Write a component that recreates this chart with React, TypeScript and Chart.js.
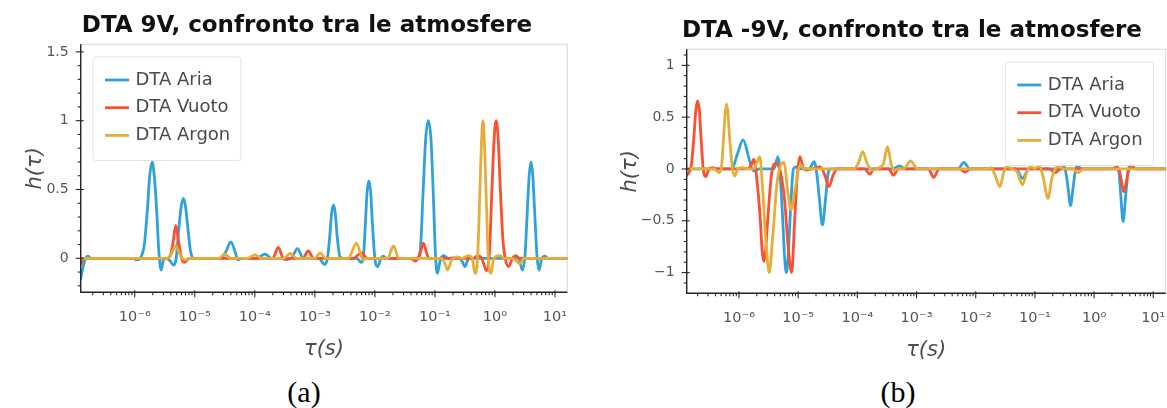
import React, { useEffect, useRef } from 'react';
import { Chart, registerables } from 'chart.js';

Chart.register(...registerables);

const FONT = "'DejaVu Sans', 'Liberation Sans', Arial, sans-serif";
const SERIF = "'Liberation Serif', 'DejaVu Serif', serif";

const seriesLabels = ['DTA Aria', 'DTA Vuoto', 'DTA Argon'];
const seriesColors = ['#30a2da', '#fc4f30', '#e5ae38'];

type Pt = [number, number]; // [log10(tau / s), h(tau)]

// ---------- Panel (a): DTA 9V ----------
const aria9V: Pt[] = [
  [-6.9, -0.15], [-6.86, -0.06], [-6.82, 0.0], [-6.78, 0.015], [-6.73, 0.0],
  [-6.03, 0.0], [-5.97, -0.012], [-5.91, 0.0], [-5.84, 0.1], [-5.79, 0.35],
  [-5.75, 0.6], [-5.71, 0.7], [-5.675, 0.6], [-5.635, 0.35], [-5.6, 0.06],
  [-5.56, -0.085], [-5.52, -0.01], [-5.47, 0.0], [-5.41, -0.02], [-5.35, -0.05],
  [-5.31, 0.0], [-5.265, 0.22], [-5.225, 0.38], [-5.19, 0.436], [-5.155, 0.38],
  [-5.115, 0.22], [-5.07, 0.05], [-5.02, 0.0], [-4.56, 0.0], [-4.48, 0.05],
  [-4.4, 0.12], [-4.33, 0.05], [-4.28, -0.012], [-4.22, 0.0], [-3.97, 0.0],
  [-3.83, 0.03], [-3.72, 0.0], [-3.4, 0.0], [-3.29, 0.07], [-3.19, 0.0],
  [-2.93, 0.0], [-2.84, -0.045], [-2.79, 0.0], [-2.75, 0.17], [-2.72, 0.33],
  [-2.69, 0.387], [-2.66, 0.33], [-2.63, 0.17], [-2.58, 0.01], [-2.52, 0.0],
  [-2.3, 0.0], [-2.23, -0.03], [-2.19, 0.02], [-2.155, 0.28], [-2.13, 0.48],
  [-2.1, 0.562], [-2.07, 0.48], [-2.045, 0.28], [-2.0, 0.0], [-1.95, -0.06],
  [-1.9, 0.0], [-1.86, 0.015], [-1.81, 0.0], [-1.3, 0.0], [-1.25, 0.03],
  [-1.195, 0.5], [-1.155, 0.86], [-1.11, 1.0], [-1.065, 0.86], [-1.03, 0.5],
  [-0.99, 0.02], [-0.96, -0.11], [-0.91, -0.01], [-0.85, 0.02], [-0.78, 0.0],
  [-0.6, 0.005], [-0.55, -0.02], [-0.5, -0.06], [-0.45, -0.01], [-0.4, 0.0],
  [0.4, 0.0], [0.455, -0.085], [0.5, 0.02], [0.54, 0.35], [0.57, 0.6],
  [0.6, 0.7], [0.63, 0.6], [0.66, 0.35], [0.7, 0.02], [0.735, -0.085],
  [0.78, 0.0], [0.835, 0.015], [0.88, 0.0], [1.21, 0.0],
];

const vuoto9V: Pt[] = [
  [-6.9, -0.04], [-6.84, 0.0], [-5.47, 0.0], [-5.4, 0.03], [-5.36, 0.12],
  [-5.317, 0.24], [-5.27, 0.12], [-5.22, 0.0], [-5.17, -0.03], [-5.1, 0.0],
  [-3.7, 0.0], [-3.61, 0.08], [-3.53, 0.0], [-3.47, -0.01], [-3.4, 0.0],
  [-3.2, 0.0], [-3.11, 0.053], [-3.02, 0.0], [-2.36, 0.0], [-2.22, 0.04],
  [-2.13, 0.0], [-1.4, 0.0], [-1.33, -0.02], [-1.28, 0.0], [-1.24, 0.05],
  [-1.19, 0.11], [-1.14, 0.04], [-1.1, 0.0], [-0.36, 0.0], [-0.29, 0.02],
  [-0.22, 0.0], [-0.14, -0.09], [-0.095, 0.02], [-0.05, 0.5], [-0.015, 0.86],
  [0.02, 1.0], [0.055, 0.86], [0.09, 0.5], [0.13, 0.15], [0.17, 0.0],
  [0.23, -0.06], [0.29, 0.0], [0.35, 0.02], [0.41, 0.0], [1.21, 0.0],
];

const argon9V: Pt[] = [
  [-6.9, 0.0], [-5.45, 0.0], [-5.38, 0.04], [-5.32, 0.09], [-5.26, 0.04],
  [-5.21, 0.0], [-5.16, -0.012], [-5.1, 0.0], [-4.6, 0.0], [-4.5, 0.03],
  [-4.4, 0.0], [-4.12, 0.0], [-4.0, 0.025], [-3.88, 0.0], [-3.52, 0.0],
  [-3.41, 0.035], [-3.3, 0.0], [-3.0, 0.0], [-2.91, 0.04], [-2.82, 0.0],
  [-2.44, 0.0], [-2.37, 0.06], [-2.31, 0.11], [-2.25, 0.05], [-2.2, -0.01],
  [-2.14, 0.0], [-1.79, 0.0], [-1.69, 0.09], [-1.6, 0.0], [-0.9, 0.0],
  [-0.84, -0.03], [-0.79, -0.085], [-0.72, -0.01], [-0.63, 0.01], [-0.55, 0.0],
  [-0.44, 0.02], [-0.38, 0.0], [-0.33, -0.11], [-0.29, 0.0], [-0.25, 0.5],
  [-0.225, 0.84], [-0.2, 1.0], [-0.175, 0.84], [-0.15, 0.5], [-0.11, 0.0],
  [-0.065, -0.11], [-0.02, 0.0], [0.085, 0.02], [0.15, 0.0], [0.3, 0.0],
  [0.36, -0.02], [0.42, -0.04], [0.48, 0.0], [1.21, 0.0],
];

// ---------- Panel (b): DTA -9V ----------
const ariaM9V: Pt[] = [
  [-6.884, 0.0], [-6.12, 0.0], [-6.03, 0.14], [-5.93, 0.28], [-5.84, 0.12],
  [-5.78, 0.0], [-5.73, -0.02], [-5.66, 0.0], [-5.41, 0.0], [-5.34, 0.12],
  [-5.265, -0.45], [-5.23, -0.85], [-5.2, -1.0], [-5.17, -0.85], [-5.135, -0.45],
  [-5.08, 0.0], [-5.03, 0.02], [-4.96, 0.0], [-4.82, 0.0], [-4.73, 0.07],
  [-4.685, -0.05], [-4.645, -0.27], [-4.59, -0.54], [-4.535, -0.27], [-4.49, -0.03],
  [-4.44, 0.0], [-3.4, 0.0], [-3.29, 0.03], [-3.18, 0.0], [-2.3, 0.0],
  [-2.2, 0.064], [-2.1, 0.0], [-1.32, 0.0], [-1.21, -0.09], [-1.1, 0.0],
  [-0.64, 0.0], [-0.56, 0.04], [-0.49, 0.0], [-0.44, -0.18], [-0.4, -0.354],
  [-0.355, -0.18], [-0.31, 0.0], [-0.275, 0.03], [-0.22, 0.0], [0.38, 0.0],
  [0.42, -0.03], [0.45, -0.25], [0.49, -0.508], [0.535, -0.25], [0.58, 0.0],
  [0.635, 0.04], [0.7, 0.0], [1.21, 0.0],
];

const vuotoM9V: Pt[] = [
  [-6.884, -0.06], [-6.84, -0.03], [-6.8, 0.06], [-6.76, 0.33], [-6.73, 0.56],
  [-6.7, 0.656], [-6.67, 0.56], [-6.645, 0.33], [-6.605, 0.0], [-6.56, -0.074],
  [-6.51, 0.0], [-6.45, 0.012], [-6.38, 0.0], [-5.86, 0.0], [-5.8, 0.03],
  [-5.75, 0.093], [-5.69, -0.15], [-5.645, -0.45], [-5.61, -0.78], [-5.58, -0.894],
  [-5.55, -0.78], [-5.51, -0.45], [-5.45, -0.05], [-5.38, 0.055], [-5.3, -0.03],
  [-5.23, -0.3], [-5.17, -0.75], [-5.11, -1.0], [-5.06, -0.5], [-5.015, -0.05],
  [-4.97, 0.12], [-4.92, 0.02], [-4.86, -0.01], [-4.76, 0.0], [-4.63, 0.02],
  [-4.55, -0.06], [-4.48, -0.17], [-4.41, -0.06], [-4.34, 0.0], [-3.88, 0.0],
  [-3.79, -0.05], [-3.72, 0.0], [-3.47, 0.0], [-3.39, -0.06], [-3.31, 0.0],
  [-2.8, 0.0], [-2.71, -0.08], [-2.62, 0.0], [-2.27, 0.0], [-2.18, -0.03],
  [-2.09, 0.0], [-0.76, 0.0], [-0.66, -0.035], [-0.56, 0.0], [0.32, 0.0],
  [0.375, 0.02], [0.42, 0.0], [0.46, -0.11], [0.5, -0.22], [0.55, -0.11],
  [0.59, 0.0], [0.635, 0.02], [0.7, 0.0], [1.21, 0.0],
];

const argonM9V: Pt[] = [
  [-6.884, 0.0], [-6.42, 0.0], [-6.34, -0.035], [-6.3, 0.0], [-6.26, 0.31],
  [-6.235, 0.53], [-6.21, 0.627], [-6.185, 0.53], [-6.16, 0.31], [-6.11, 0.0],
  [-6.07, -0.068], [-6.02, 0.0], [-5.93, 0.012], [-5.85, 0.0], [-5.75, 0.0],
  [-5.7, 0.06], [-5.65, 0.12], [-5.6, -0.2], [-5.545, -0.7], [-5.49, -1.0],
  [-5.43, -0.65], [-5.36, -0.15], [-5.3, 0.03], [-5.24, 0.064], [-5.18, -0.2],
  [-5.12, -0.395], [-5.055, -0.2], [-4.96, 0.04], [-4.9, 0.0], [-4.06, 0.0],
  [-3.98, 0.06], [-3.91, 0.167], [-3.84, 0.06], [-3.78, 0.0], [-3.74, -0.01],
  [-3.66, 0.005], [-3.56, 0.05], [-3.49, 0.215], [-3.43, 0.05], [-3.38, -0.01],
  [-3.32, 0.0], [-3.2, 0.01], [-3.1, 0.077], [-2.98, 0.0], [-1.8, 0.0],
  [-1.74, 0.012], [-1.68, -0.05], [-1.59, -0.17], [-1.53, -0.04], [-1.48, 0.02],
  [-1.4, 0.005], [-1.3, -0.03], [-1.21, -0.154], [-1.13, -0.02], [-1.07, 0.02],
  [-1.0, 0.005], [-0.93, 0.03], [-0.86, -0.08], [-0.78, -0.283], [-0.71, -0.08],
  [-0.66, 0.0], [-0.6, 0.02], [-0.5, 0.0], [-0.36, 0.0], [-0.27, -0.035],
  [-0.18, 0.0], [1.21, 0.0],
];

// ---------- Ticks ----------
const xMajorExp = [-6, -5, -4, -3, -2, -1, 0, 1];
const xMinorMult = [2, 3, 4, 5, 6, 7, 8, 9];
const yMajorA = [0, 0.5, 1, 1.5];
const yMinorA = [-0.2, -0.1, 0.1, 0.2, 0.3, 0.4, 0.6, 0.7, 0.8, 0.9, 1.1, 1.2, 1.3, 1.4];
const yMajorB = [-1, -0.5, 0, 0.5, 1];
const yMinorB = [-1.1, -0.9, -0.8, -0.7, -0.6, -0.4, -0.3, -0.2, -0.1, 0.1, 0.2, 0.3, 0.4, 0.6, 0.7, 0.8, 0.9, 1.1];

const SUP: Record<string, string> = {
  '-': '⁻', '0': '⁰', '1': '¹', '2': '²', '3': '³', '4': '⁴',
  '5': '⁵', '6': '⁶', '7': '⁷', '8': '⁸', '9': '⁹',
};
const supText = (n: number) => String(n).split('').map((c) => SUP[c] || c).join('');

const CANVAS_H = 372;
const X_AXIS_H = 72;

interface PanelSpec {
  title: string;
  caption: string;
  series: Pt[][];
  canvasLeft: number;
  canvasWidth: number;
  area: { left: number; top: number; right: number; bottom: number };
  titleX: number;
  titleBaseline: number;
  xMinExp: number;
  xMaxExp: number;
  yMin: number;
  yMax: number;
  yMajor: number[];
  yMinor: number[];
  legendSide: 'left' | 'right';
  yTitleCenter: number;
  captionX: number;
}

const panels: PanelSpec[] = [
  {
    title: 'DTA 9V, confronto tra le atmosfere',
    caption: '(a)',
    series: [aria9V, vuoto9V, argon9V],
    canvasLeft: 0,
    canvasWidth: 583,
    area: { left: 80.7, top: 44.3, right: 567.3, bottom: 292.3 },
    titleX: 307,
    titleBaseline: 32.3,
    xMinExp: -6.9,
    xMaxExp: 1.205,
    yMin: -0.247,
    yMax: 1.555,
    yMajor: yMajorA,
    yMinor: yMinorA,
    legendSide: 'left',
    yTitleCenter: 36,
    captionX: 304,
  },
  {
    title: 'DTA -9V, confronto tra le atmosfere',
    caption: '(b)',
    series: [ariaM9V, vuotoM9V, argonM9V],
    canvasLeft: 583,
    canvasWidth: 584,
    area: { left: 686.7, top: 49.3, right: 1165.7, bottom: 293.3 },
    titleX: 912,
    titleBaseline: 37.3,
    xMinExp: -6.884,
    xMaxExp: 1.21,
    yMin: -1.2,
    yMax: 1.155,
    yMajor: yMajorB,
    yMinor: yMinorB,
    legendSide: 'right',
    yTitleCenter: 631,
    captionX: 898,
  },
];

function makeDecor(spec: PanelSpec) {
  return {
    id: 'panelDecor',
    beforeDatasetsDraw(chart: any) {
      const { ctx, chartArea } = chart;
      const { left, top, right, bottom } = chartArea;
      ctx.save();
      ctx.strokeStyle = '#dedede';
      ctx.lineWidth = 1.3;
      ctx.strokeRect(left, top, right - left, bottom - top);
      ctx.restore();
    },
    afterDatasetsDraw(chart: any) {
      const { ctx, chartArea } = chart;
      const { left, top, right, bottom } = chartArea;
      const xs = chart.scales.x;
      const ys = chart.scales.y;
      const line = (x1: number, y1: number, x2: number, y2: number) => {
        ctx.beginPath();
        ctx.moveTo(x1, y1);
        ctx.lineTo(x2, y2);
        ctx.stroke();
      };
      ctx.save();
      ctx.strokeStyle = '#262626';
      ctx.lineWidth = 1.4;
      ctx.beginPath();
      ctx.moveTo(left, top);
      ctx.lineTo(left, bottom);
      ctx.lineTo(right, bottom);
      ctx.stroke();
      ctx.lineWidth = 1.1;
      for (const e of xMajorExp) {
        const px = xs.getPixelForValue(Math.pow(10, e));
        if (px >= left - 0.5 && px <= right + 0.5) line(px, bottom - 2, px, bottom + 5);
      }
      for (let e = Math.floor(spec.xMinExp); e <= Math.ceil(spec.xMaxExp); e++) {
        for (const m of xMinorMult) {
          const v = m * Math.pow(10, e);
          if (v < xs.min || v > xs.max) continue;
          const px = xs.getPixelForValue(v);
          line(px, bottom, px, bottom + 3);
        }
      }
      for (const v of spec.yMajor) {
        const py = ys.getPixelForValue(v);
        line(left - 5, py, left + 3, py);
      }
      for (const v of spec.yMinor) {
        const py = ys.getPixelForValue(v);
        line(left - 3, py, left, py);
      }
      ctx.restore();
    },
    afterDraw(chart: any) {
      const { ctx, chartArea } = chart;
      const { left, top, right } = chartArea;
      ctx.save();
      // title
      ctx.fillStyle = '#111';
      ctx.font = `bold 23px ${FONT}`;
      ctx.textAlign = 'center';
      ctx.textBaseline = 'alphabetic';
      ctx.fillText(spec.title, spec.titleX - spec.canvasLeft, spec.titleBaseline);
      // legend
      const w = 148;
      const h = 103.5;
      const bx = spec.legendSide === 'left' ? left + 12.3 : right - 12.4 - w;
      const by = top + 12.7;
      ctx.fillStyle = 'rgba(255,255,255,0.85)';
      ctx.strokeStyle = '#e2e2e2';
      ctx.lineWidth = 1;
      ctx.beginPath();
      if ((ctx as any).roundRect) (ctx as any).roundRect(bx, by, w, h, 3);
      else ctx.rect(bx, by, w, h);
      ctx.fill();
      ctx.stroke();
      chart.data.datasets.forEach((ds: any, i: number) => {
        const ry = by + 23 + i * 27.7;
        ctx.strokeStyle = ds.borderColor;
        ctx.lineWidth = 2.8;
        ctx.beginPath();
        ctx.moveTo(bx + 12, ry);
        ctx.lineTo(bx + 36, ry);
        ctx.stroke();
        ctx.fillStyle = '#4a4a4a';
        ctx.font = `18px ${FONT}`;
        ctx.textAlign = 'left';
        ctx.textBaseline = 'middle';
        ctx.fillText(ds.label, bx + 42.5, ry);
      });
      ctx.restore();
    },
  };
}

function Panel({ spec }: { spec: PanelSpec }) {
  const ref = useRef<HTMLCanvasElement>(null);
  useEffect(() => {
    const canvas = ref.current;
    if (!canvas) return;
    const a = spec.area;
    const cl = spec.canvasLeft;
    const fmtY = (v: number) => {
      if (Math.abs(v) < 1e-9) return '0';
      const s = String(Math.abs(v));
      return v < 0 ? '−' + s : s;
    };
    const chart = new Chart(canvas, {
      type: 'line',
      data: {
        datasets: seriesLabels.map((label, i) => ({
          label,
          data: spec.series[i].map(([e, hv]) => ({ x: Math.pow(10, e), y: hv })),
          borderColor: seriesColors[i],
          backgroundColor: seriesColors[i],
          borderWidth: 2.8,
          pointRadius: 0,
          pointHoverRadius: 0,
          fill: false,
          cubicInterpolationMode: 'monotone' as const,
          borderJoinStyle: 'round' as const,
          borderCapStyle: 'round' as const,
          order: 3 - i,
        })),
      },
      options: {
        responsive: false,
        animation: false,
        devicePixelRatio: 1,
        events: [],
        layout: {
          padding: {
            left: 0,
            top: a.top,
            right: cl + spec.canvasWidth - a.right,
            bottom: CANVAS_H - a.bottom - X_AXIS_H,
          },
        },
        plugins: {
          legend: { display: false },
          tooltip: { enabled: false },
          title: { display: false },
        },
        scales: {
          x: {
            type: 'logarithmic',
            min: Math.pow(10, spec.xMinExp),
            max: Math.pow(10, spec.xMaxExp),
            afterBuildTicks: (s: any) => {
              s.ticks = xMajorExp.map((e) => ({ value: Math.pow(10, e), major: true }));
            },
            afterFit: (s: any) => {
              s.height = X_AXIS_H;
              s.paddingLeft = 0;
              s.paddingRight = 0;
            },
            grid: { display: false, drawTicks: false },
            border: { display: false },
            ticks: {
              autoSkip: false,
              maxRotation: 0,
              minRotation: 0,
              padding: 16,
              color: '#555',
              font: { family: FONT, size: 14.5 },
              callback: (v: any) => '10' + supText(Math.round(Math.log10(Number(v)))),
            },
            title: {
              display: true,
              text: 'τ(s)',
              color: '#4d4d4d',
              font: { family: FONT, size: 21, style: 'italic' },
              padding: { top: 0, bottom: 2.5 },
            },
          },
          y: {
            type: 'linear',
            min: spec.yMin,
            max: spec.yMax,
            afterBuildTicks: (s: any) => {
              s.ticks = spec.yMajor.map((v) => ({ value: v }));
            },
            afterFit: (s: any) => {
              s.width = a.left - cl;
              s.paddingTop = 0;
              s.paddingBottom = 0;
            },
            grid: { display: false, drawTicks: false },
            border: { display: false },
            ticks: {
              padding: 12,
              color: '#555',
              font: { family: FONT, size: 14 },
              callback: (v: any) => fmtY(Number(v)),
            },
            title: {
              display: true,
              text: 'h(τ)',
              color: '#4d4d4d',
              font: { family: FONT, size: 21, style: 'italic' },
              padding: { top: spec.yTitleCenter - cl - 12.6, bottom: 0 },
            },
          },
        },
      } as any,
      plugins: [makeDecor(spec)],
    });
    return () => chart.destroy();
  }, [spec]);
  return (
    <canvas
      ref={ref}
      width={spec.canvasWidth}
      height={CANVAS_H}
      style={{ position: 'absolute', left: spec.canvasLeft, top: 0, width: spec.canvasWidth, height: CANVAS_H }}
    />
  );
}

export default function App() {
  return (
    <div
      style={{
        position: 'fixed',
        left: 0,
        top: 0,
        width: 1167,
        height: 408,
        background: '#fff',
        overflow: 'hidden',
      }}
    >
      {panels.map((p) => (
        <Panel key={p.caption} spec={p} />
      ))}
      {panels.map((p) => (
        <div
          key={'cap' + p.caption}
          style={{
            position: 'absolute',
            left: p.captionX - 40,
            width: 80,
            top: 376.6,
            textAlign: 'center',
            fontFamily: SERIF,
            fontSize: 30,
            lineHeight: '30px',
            color: '#000',
          }}
        >
          {p.caption}
        </div>
      ))}
    </div>
  );
}
